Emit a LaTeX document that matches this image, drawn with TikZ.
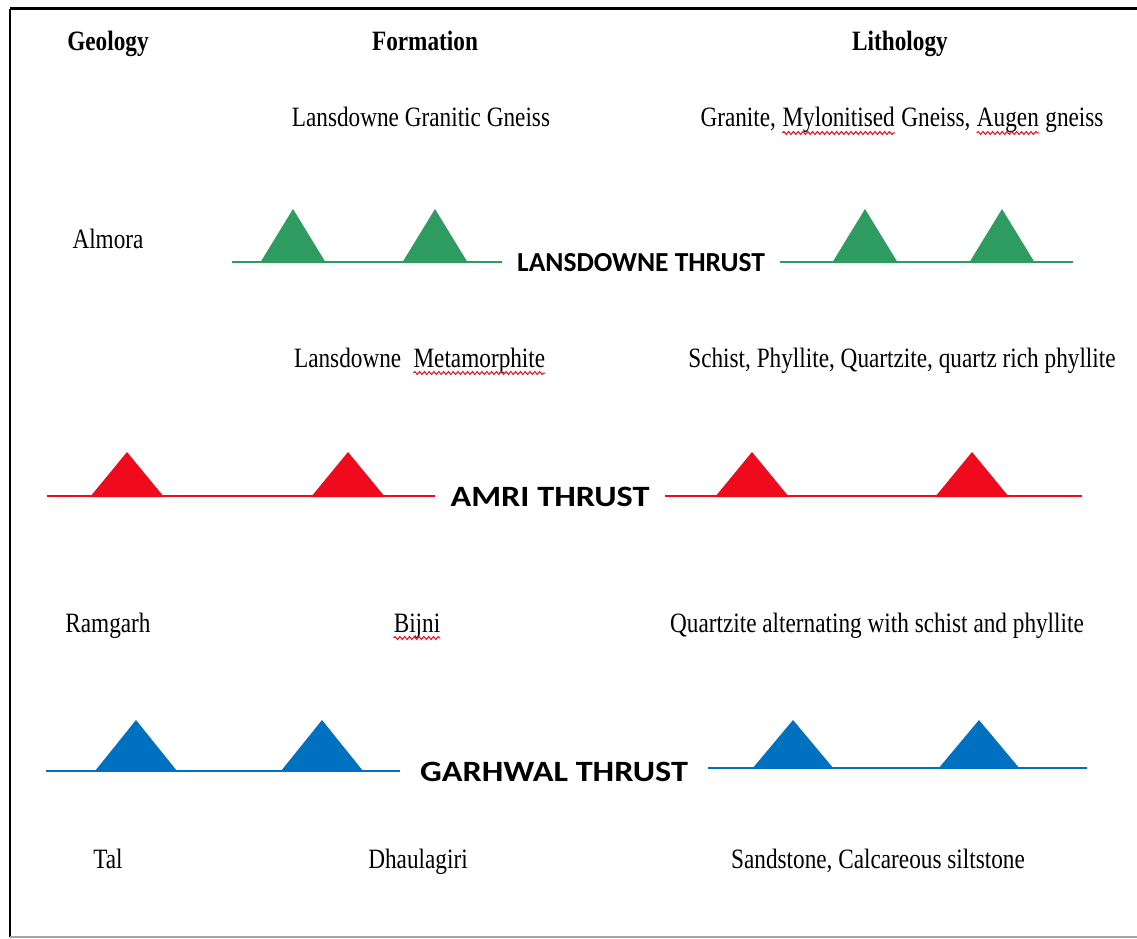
\documentclass[tikz,border=0pt]{standalone}
\usepackage{fontspec}
\setmainfont{Liberation Serif}[FakeStretch=0.83]
\newfontfamily\thrustfont{Carlito}
\usepackage{tikz}
\usetikzlibrary{positioning}
\usetikzlibrary{decorations.pathmorphing}
\definecolor{lansgreen}{RGB}{46,155,96}
\definecolor{amrired}{RGB}{240,10,30}
\definecolor{garblue}{RGB}{0,112,192}
\tikzset{txt/.style = {font = \fontsize{28}{32}\selectfont, inner sep = 0, anchor = base}}
\tikzset{head/.style = {txt, font = \fontsize{28}{32}\selectfont\bfseries}}
\tikzset{thrust/.style = {font = \thrustfont\fontsize{27.5}{32}\selectfont\bfseries, fill = white, inner xsep = 15, inner ysep = 6}}
\tikzset{fault/.style = {line width = 2.8}}
\newcommand{\widelabel}[1]{\fontsize{29.5}{34}\selectfont\scalebox{1.16}[1]{#1}}
\newcommand{\spellerr}[1]{\tikz[baseline = (w.base)]{\node[inner sep = 0] (w) {#1};
  \draw[amrired, line width = 1, decorate, decoration = {snake, amplitude = 1.5, segment length = 4.8}]
  ([yshift = -6]w.base west) -- ([yshift = -6]w.base east);}}

\begin{document}
\begin{tikzpicture}[x = 1pt, y = -1pt]
      \useasboundingbox (0, 0) rectangle (1137, 939);
      % frame
      \draw[line width = 3] (10, 9) -- (1137, 9);
      \draw[line width = 2] (10, 9) -- (10, 937);
      \draw[gray!70, line width = 1.5] (10, 937) -- (1137, 937);
      % headings
      \node [head] (geo) at (108, 51) {Geology};
      \node [head] (form) at (425, 51) {Formation};
      \node [head] (lith) at (900, 51) {Lithology};
      % rows of text
      \node [txt] (lgg) at (421, 127) {Lansdowne Granitic Gneiss};
      \node [txt] (lgglith) at (902, 127) {Granite, \spellerr{Mylonitised} Gneiss, \spellerr{Augen} gneiss};
      \node [txt] (almora) at (108, 248) {Almora};
      \node [txt] (lmeta) at (420, 367) {Lansdowne\ \ \spellerr{Metamorphite}};
      \node [txt] (lmetalith) at (902, 367) {Schist, Phyllite, Quartzite, quartz rich phyllite};
      \node [txt] (ramgarh) at (108, 632) {Ramgarh};
      \node [txt] (bijni) at (417, 632) {\spellerr{Bijni}};
      \node [txt] (bijnilith) at (877, 632) {Quartzite alternating with schist and phyllite};
      \node [txt] (tal) at (108, 868) {Tal};
      \node [txt] (dhaul) at (418, 868) {Dhaulagiri};
      \node [txt] (dhaullith) at (878, 868) {Sandstone, Calcareous siltstone};
      % Lansdowne thrust
      \node [thrust] (lt) at (641, 263) {LANSDOWNE THRUST};
      \coordinate (ltw) at (232, 262);
      \coordinate (lte) at (1073, 262);
      \draw [fault, lansgreen] (ltw) -- (ltw -| lt.west);
      \draw [fault, lansgreen] (lte -| lt.east) -- (lte);
      \foreach \x in {293, 435, 865, 1002} {
        \fill [lansgreen] (\x - 33, 263) -- (\x, 209) -- (\x + 33, 263) -- cycle;
      }
      % Amri thrust
      \node [thrust] (at) at (550, 497) {\widelabel{AMRI THRUST}};
      \coordinate (atw) at (47, 496);
      \coordinate (ate) at (1082, 496);
      \draw [fault, amrired] (atw) -- (atw -| at.west);
      \draw [fault, amrired] (ate -| at.east) -- (ate);
      \foreach \x in {127, 348, 752, 972} {
        \fill [amrired] (\x - 37, 497) -- (\x, 452) -- (\x + 37, 497) -- cycle;
      }
      % Garhwal thrust
      \node [thrust, inner xsep = 20] (gt) at (554, 772) {\widelabel{GARHWAL THRUST}};
      \coordinate (gtw) at (46, 771);
      \coordinate (gte) at (1087, 768);
      \draw [fault, garblue] (gtw) -- (gtw -| gt.west);
      \draw [fault, garblue] (gte -| gt.east) -- (gte);
      \foreach \x/\y in {136/771, 322/771, 793/769, 979/769} {
        \fill [garblue] (\x - 41, \y) -- (\x, 720) -- (\x + 41, \y) -- cycle;
      }
    \end{tikzpicture}
\end{document}
